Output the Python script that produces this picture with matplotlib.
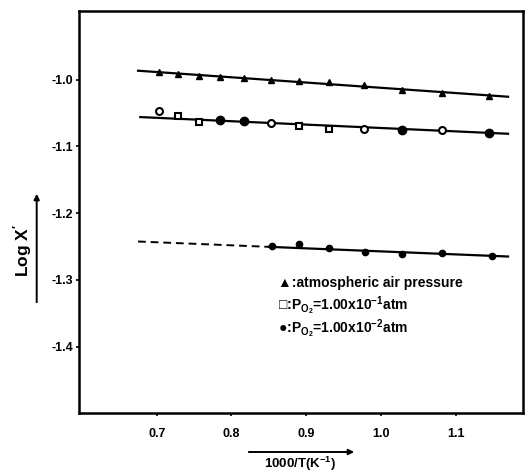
import matplotlib
matplotlib.use("Agg")
import matplotlib.pyplot as plt

plt.rcParams['font.family'] = ['Liberation Sans', 'DejaVu Sans']
plt.rcParams['font.weight'] = 'bold'
plt.rcParams['mathtext.fontset'] = 'custom'
plt.rcParams['mathtext.rm'] = 'Liberation Sans:bold'
plt.rcParams['mathtext.it'] = 'Liberation Sans:bold'
plt.rcParams['mathtext.bf'] = 'Liberation Sans:bold'

# 1000/T values (K^-1)
x_all = [0.703, 0.729, 0.756, 0.785, 0.817, 0.853, 0.890, 0.931, 0.977, 1.028, 1.082, 1.145]

# atmospheric air pressure (triangles)
y_air = [-0.9885, -0.991, -0.995, -0.996, -0.9975, -1.000, -1.0015, -1.004, -1.0085, -1.015, -1.020, -1.025]

# Po2 = 1e-1 / 1e-2 atm, same line, mixed symbols
y_mid = [-1.0465, -1.055, -1.063, -1.061, -1.062, -1.065, -1.070, -1.074, -1.074, -1.075, -1.075, -1.080]
mid_sym = ['open_o', 'open_s', 'open_s', 'fill_o', 'fill_o', 'open_o',
           'open_s', 'open_s', 'open_o', 'fill_o', 'open_o', 'fill_o']

# lowest series (filled dots)
x_low = [0.854, 0.890, 0.930, 0.978, 1.028, 1.082, 1.149]
y_low = [-1.249, -1.246, -1.2525, -1.2585, -1.261, -1.260, -1.2635]

# fitted lines (end points)
fit_air_x = [0.675, 1.170]
fit_air_y = [-0.9865, -1.0255]
fit_mid_x = [0.678, 1.170]
fit_mid_y = [-1.056, -1.081]
fit_low_dash_x = [0.675, 0.850]
fit_low_dash_y = [-1.2425, -1.2505]
fit_low_x = [0.850, 1.170]
fit_low_y = [-1.2505, -1.265]

xticks = [0.7, 0.8, 0.9, 1.0, 1.1]
yticks = [-1.0, -1.1, -1.2, -1.3, -1.4]

W, H = 531, 472
fig = plt.figure(figsize=(W / 100, H / 100), dpi=100)
ax = fig.add_axes([79 / W, 1 - 413.3 / H, 444 / W, 402.3 / H])

ax.plot(fit_air_x, fit_air_y, color='black', lw=1.6)
ax.plot(fit_mid_x, fit_mid_y, color='black', lw=1.6)
ax.plot(fit_low_dash_x, fit_low_dash_y, color='black', lw=1.4, ls=(0, (4, 2.5)))
ax.plot(fit_low_x, fit_low_y, color='black', lw=1.6)

ax.plot(x_all, y_air, ls='none', marker='^', ms=5, color='black')

for x, y, s in zip(x_all, y_mid, mid_sym):
    if s == 'open_o':
        ax.plot(x, y, marker='o', ms=5, mfc='white', mec='black', mew=1.5)
    elif s == 'open_s':
        ax.plot(x, y, marker='s', ms=4.5, mfc='white', mec='black', mew=1.5)
    else:
        ax.plot(x, y, marker='o', ms=6, color='black')

ax.plot(x_low, y_low, ls='none', marker='o', ms=4.5, color='black')

ax.set_xlim(0.596, 1.19)
ax.set_ylim(-1.5, -0.897)
ax.set_xticks(xticks)
ax.set_xticklabels(['%.1f' % v for v in xticks])
ax.set_yticks(yticks)
ax.set_yticklabels(['%.1f' % v for v in yticks])
ax.tick_params(direction='out', length=2.5, width=1.2, labelsize=9)
ax.tick_params(axis='x', pad=8)
ax.tick_params(axis='y', pad=1.5)
for sp in ax.spines.values():
    sp.set_linewidth(1.8)

# legend written as text
leg_fs = 10
ax.text(278 / W, 1 - 283 / H, '▲:atmospheric air pressure', transform=fig.transFigure,
        fontsize=leg_fs, va='center', ha='left')
ax.text(278 / W, 1 - 306 / H, r'□:P$_{\mathrm{O_2}}$=1.00x10$^{-1}$atm', transform=fig.transFigure,
        fontsize=leg_fs, va='center', ha='left')
ax.text(278 / W, 1 - 329 / H, r'●:P$_{\mathrm{O_2}}$=1.00x10$^{-2}$atm', transform=fig.transFigure,
        fontsize=leg_fs, va='center', ha='left')

# axis titles with arrows
fig.text(23 / W, 1 - 250 / H, "Log X$'$", rotation=90, fontsize=12.5, va='center', ha='center')
fig.text(300 / W, 1 - 464 / H, '1000/T(K$^{-1}$)', fontsize=9.5, va='center', ha='center')
fig.add_artist(matplotlib.patches.FancyArrowPatch(
    (36.7 / W, 1 - 305 / H), (36.7 / W, 1 - 191 / H), transform=fig.transFigure,
    arrowstyle='-|>', mutation_scale=8, color='black', lw=1.4))
fig.add_artist(matplotlib.patches.FancyArrowPatch(
    (246 / W, 1 - 452 / H), (357 / W, 1 - 452 / H), transform=fig.transFigure,
    arrowstyle='-|>', mutation_scale=8, color='black', lw=1.4))

fig.savefig('out.png', dpi=100)
